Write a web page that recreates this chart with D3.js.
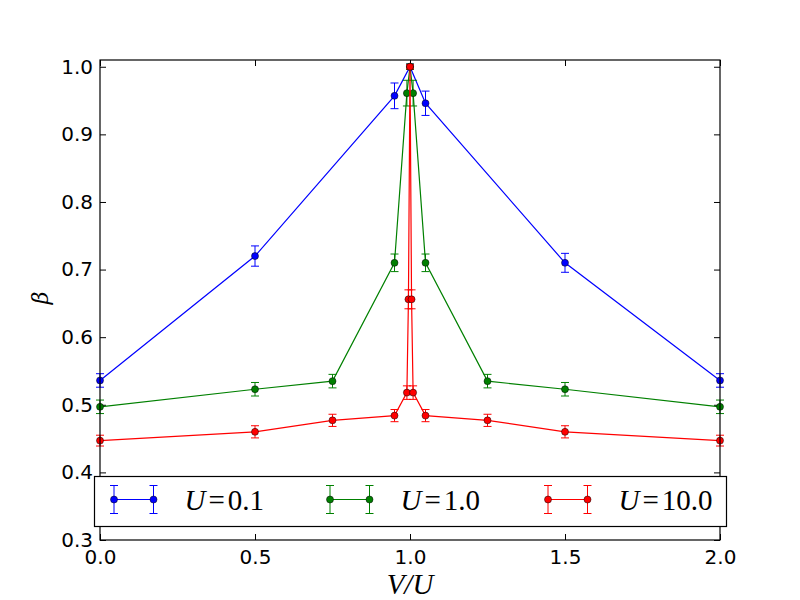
<!DOCTYPE html>
<html lang="en">
<head>
<meta charset="UTF-8">
<title>beta vs V/U</title>
<script src="https://d3js.org/d3.v7.min.js"></script>
<style>
  body { margin: 0; background: #fff; }
  .tick text { font-family: "DejaVu Sans", sans-serif; font-size: 20px; fill: #000; }
</style>
</head>
<body>
<svg width="800" height="600"></svg>
<script>
// data
const xBlue = [0, 0.5, 0.95, 1.0, 1.05, 1.5, 2.0];
const yBlue = [0.536, 0.720, 0.957, 1.0, 0.946, 0.710, 0.536];
const eBlue = [0.010, 0.015, 0.019, 0.004, 0.018, 0.014, 0.010];

const xGreen = [0, 0.5, 0.75, 0.95, 0.99, 1.0, 1.01, 1.05, 1.25, 1.5, 2.0];
const yGreen = [0.497, 0.523, 0.535, 0.710, 0.961, 1.0, 0.961, 0.710, 0.535, 0.523, 0.497];
const eGreen = [0.010, 0.010, 0.010, 0.013, 0.019, 0.004, 0.019, 0.013, 0.010, 0.010, 0.010];

const xRed = [0, 0.5, 0.75, 0.95, 0.99, 0.995, 1.0, 1.005, 1.01, 1.05, 1.25, 1.5, 2.0];
const yRed = [0.447, 0.460, 0.477, 0.484, 0.518, 0.656, 1.0, 0.656, 0.518, 0.484, 0.477, 0.460, 0.447];
const eRed = [0.008, 0.009, 0.009, 0.009, 0.010, 0.014, 0.003, 0.014, 0.010, 0.009, 0.009, 0.009, 0.008];

const xTicks = [0, 0.5, 1.0, 1.5, 2.0];
const yTicks = [0.3, 0.4, 0.5, 0.6, 0.7, 0.8, 0.9, 1.0];
const labels = ["0.1", "1.0", "10.0"];
const colors = ["#0000ff", "#008000", "#ff0000"];

const series = [
  {x: xBlue, y: yBlue, e: eBlue},
  {x: xGreen, y: yGreen, e: eGreen},
  {x: xRed, y: yRed, e: eRed}
];

const mLeft = 100, mRight = 720, mTop = 60, mBottom = 540;
const svg = d3.select("svg");

const x = d3.scaleLinear().domain([0, 2]).range([mLeft, mRight]);
const y = d3.scaleLinear().domain([0.3, 1.01]).range([mBottom, mTop]);

// axes (ticks point inwards, on all four sides)
svg.append("g").attr("class", "ax")
  .attr("transform", `translate(0,${mBottom})`)
  .call(d3.axisBottom(x).tickValues(xTicks).tickFormat(d3.format(".1f")).tickSizeInner(-6).tickSizeOuter(0).tickPadding(10));
svg.append("g").attr("class", "ax")
  .attr("transform", `translate(0,${mTop})`)
  .call(d3.axisTop(x).tickValues(xTicks).tickFormat("").tickSizeInner(-6).tickSizeOuter(0));
svg.append("g").attr("class", "ax")
  .attr("transform", `translate(${mLeft},0)`)
  .call(d3.axisLeft(y).tickValues(yTicks).tickFormat(d3.format(".1f")).tickSizeInner(-6).tickSizeOuter(0).tickPadding(7));
svg.append("g").attr("class", "ax")
  .attr("transform", `translate(${mRight},0)`)
  .call(d3.axisRight(y).tickValues(yTicks).tickFormat("").tickSizeInner(-6).tickSizeOuter(0));
svg.selectAll(".ax .domain").remove();
svg.selectAll(".ax .tick line").attr("stroke", "#000").attr("stroke-width", 1);

const line = d3.line().x(d => x(d[0])).y(d => y(d[1]));
const plot = svg.append("g");

series.forEach((s, i) => {
  const pts = s.x.map((v, j) => [v, s.y[j], s.e[j]]);
  const g = plot.append("g");
  // error bars
  pts.forEach(p => {
    g.append("line").attr("x1", x(p[0])).attr("x2", x(p[0]))
      .attr("y1", y(p[1] - p[2])).attr("y2", y(p[1] + p[2]))
      .attr("stroke", colors[i]).attr("stroke-width", 1);
    [p[1] - p[2], p[1] + p[2]].forEach(v => {
      g.append("line").attr("x1", x(p[0]) - 4).attr("x2", x(p[0]) + 4)
        .attr("y1", y(v)).attr("y2", y(v))
        .attr("stroke", colors[i]).attr("stroke-width", 1);
    });
  });
  g.append("path").datum(pts).attr("d", line)
    .attr("fill", "none").attr("stroke", colors[i]).attr("stroke-width", 1.2);
  g.selectAll("circle").data(pts).enter().append("circle")
    .attr("cx", d => x(d[0])).attr("cy", d => y(d[1])).attr("r", 3.5)
    .attr("fill", colors[i]).attr("stroke", "#000").attr("stroke-width", 0.5);
});

// frame
svg.append("rect").attr("x", mLeft).attr("y", mTop).attr("width", mRight - mLeft).attr("height", mBottom - mTop)
  .attr("fill", "none").attr("stroke", "#000").attr("stroke-width", 1.2);

// axis labels
svg.append("text").attr("x", 410).attr("y", 594).attr("text-anchor", "middle")
  .attr("font-family", "Liberation Serif, serif").attr("font-style", "italic").attr("font-size", 29)
  .text("V/U");
svg.append("text").attr("transform", "translate(48,298) rotate(-90)").attr("text-anchor", "middle")
  .attr("font-family", "DejaVu Serif, serif").attr("font-style", "italic").attr("font-size", 22)
  .text("β");

// legend
const leg = svg.append("g");
leg.append("rect").attr("x", 94.5).attr("y", 476.5).attr("width", 632).attr("height", 50)
  .attr("fill", "#fff").attr("stroke", "#000").attr("stroke-width", 1.2);
const handleX = [114, 330, 548];
const legY = 499.5;
labels.forEach((lab, i) => {
  const x0 = handleX[i], x1 = x0 + 39.5;
  const h = leg.append("g");
  h.append("line").attr("x1", x0).attr("x2", x1).attr("y1", legY).attr("y2", legY)
    .attr("stroke", colors[i]).attr("stroke-width", 1.2);
  [x0, x1].forEach(xx => {
    h.append("line").attr("x1", xx).attr("x2", xx).attr("y1", legY - 14).attr("y2", legY + 14)
      .attr("stroke", colors[i]).attr("stroke-width", 1);
    [legY - 14, legY + 14].forEach(yy => h.append("line").attr("x1", xx - 4).attr("x2", xx + 4)
      .attr("y1", yy).attr("y2", yy).attr("stroke", colors[i]).attr("stroke-width", 1));
    h.append("circle").attr("cx", xx).attr("cy", legY).attr("r", 3.5)
      .attr("fill", colors[i]).attr("stroke", "#000").attr("stroke-width", 0.5);
  });
  const t = leg.append("text").attr("x", x1 + 31).attr("y", legY + 10.5)
    .attr("font-family", "Liberation Serif, serif").attr("font-size", 29);
  t.append("tspan").attr("font-style", "italic").text("U");
  t.append("tspan").attr("dx", 3).text("=");
  t.append("tspan").attr("dx", 3).text(lab);
});
</script>
</body>
</html>
